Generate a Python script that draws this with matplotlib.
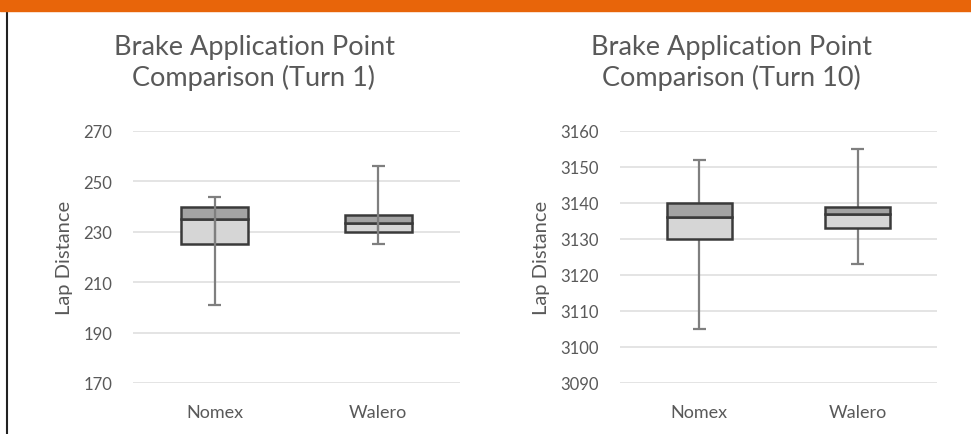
import matplotlib
matplotlib.use("Agg")
import matplotlib.pyplot as plt
from matplotlib.patches import Rectangle
from matplotlib.lines import Line2D

plt.rcParams['font.family'] = ['Lato', 'DejaVu Sans']

categories = ['Nomex', 'Walero']

# turn 1 brake points (min, q1, median, q3, max)
t1_min = [201, 225]
t1_q1 = [225, 230]
t1_med = [235, 233.5]
t1_q3 = [240, 236.5]
t1_max = [244, 256]
t1_ticks = [170, 190, 210, 230, 250, 270]

# turn 10
t10_min = [3105, 3123]
t10_q1 = [3130, 3133]
t10_med = [3136, 3137]
t10_q3 = [3140, 3139]
t10_max = [3152, 3155]
t10_ticks = [3090, 3100, 3110, 3120, 3130, 3140, 3150, 3160]

TEXT = '#595959'
EDGE = '#3a3a3a'
LOW = '#d6d6d6'
HIGH = '#a3a3a3'
WHISK = '#7f7f7f'


def draw_box(ax, mins, q1, med, q3, maxs, ticks, through):
    x = [0.5, 1.5]
    w = 0.41
    if through:
        ax.vlines(x, mins, maxs, color=WHISK, lw=1.6, zorder=4)
    else:
        ax.vlines(x, mins, q1, color=WHISK, lw=1.6, zorder=2)
        ax.vlines(x, q3, maxs, color=WHISK, lw=1.6, zorder=2)
    ax.hlines(mins, [v - 0.04 for v in x], [v + 0.04 for v in x], color=WHISK, lw=1.6, zorder=2)
    ax.hlines(maxs, [v - 0.04 for v in x], [v + 0.04 for v in x], color=WHISK, lw=1.6, zorder=2)
    low = [m - a for m, a in zip(med, q1)]
    high = [b - m for b, m in zip(q3, med)]
    ax.bar(x, low, bottom=q1, width=w, color=LOW, edgecolor=EDGE, lw=1.8, zorder=3)
    ax.bar(x, high, bottom=med, width=w, color=HIGH, edgecolor=EDGE, lw=1.8, zorder=3)
    if through:
        ax.vlines(x, q1, med, color=WHISK, lw=1.6, zorder=4)
        ax.vlines(x, med, q3, color=WHISK, lw=1.0, alpha=0.4, zorder=4)
    ax.set_xlim(0, 2)
    ax.set_ylim(ticks[0], ticks[-1])
    ax.set_yticks(ticks)
    ax.set_xticks(x)
    ax.set_xticklabels(categories)
    ax.grid(axis='y', color='#dcdcdc', lw=1.1, zorder=0)
    ax.set_axisbelow(True)
    for s in ax.spines.values():
        s.set_visible(False)
    ax.tick_params(axis='y', length=0, colors=TEXT, labelsize=12, pad=15)
    ax.tick_params(axis='x', length=0, colors=TEXT, labelsize=13, pad=15)
    ax.set_ylabel('Lap Distance', color=TEXT, fontsize=14.5)


fig = plt.figure(figsize=(9.71, 4.35), dpi=100)

ax1 = fig.add_axes([133 / 971, 1 - 384 / 435, 327 / 971, 252 / 435])
draw_box(ax1, t1_min, t1_q1, t1_med, t1_q3, t1_max, t1_ticks, True)
ax1.yaxis.set_label_coords(-0.183, 0.5)

ax2 = fig.add_axes([620 / 971, 1 - 384 / 435, 317 / 971, 252 / 435])
draw_box(ax2, t10_min, t10_q1, t10_med, t10_q3, t10_max, t10_ticks, False)
ax2.yaxis.set_label_coords(-0.221, 0.5)

titles = [('Brake Application Point', 'Comparison (Turn 1)', 254),
          ('Brake Application Point', 'Comparison (Turn 10)', 731)]
for line1, line2, cx in titles:
    fig.text(cx / 971, 1 - 55 / 435, line1, ha='center', va='baseline', fontsize=19.5, color=TEXT)
    fig.text(cx / 971, 1 - 86 / 435, line2, ha='center', va='baseline', fontsize=19.5, color=TEXT)

# orange band and left frame line
fig.add_artist(Rectangle((0, 1 - 12 / 435), 1, 12 / 435, transform=fig.transFigure,
                         color='#e8650a', zorder=10))
fig.add_artist(Line2D([7 / 971, 7 / 971], [0, 1 - 12 / 435], transform=fig.transFigure,
                      color='#222222', lw=1.5))

fig.savefig('out.png', dpi=100)
